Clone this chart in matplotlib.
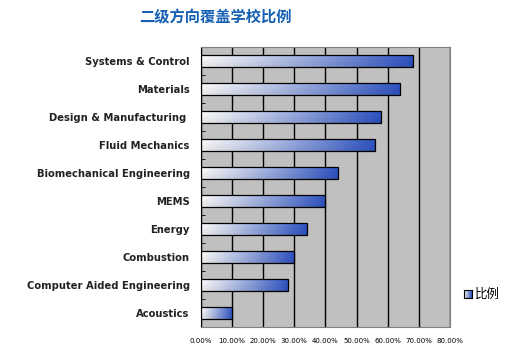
import numpy as np
import matplotlib
matplotlib.use('Agg')
import matplotlib.pyplot as plt
from matplotlib.ticker import FuncFormatter, MultipleLocator

plt.rcParams['font.family'] = ['DejaVu Sans', 'Noto Sans CJK SC']

categories = ['Systems & Control', 'Materials', 'Design & Manufacturing ', 'Fluid Mechanics',
              'Biomechanical Engineering', 'MEMS', 'Energy', 'Combustion',
              'Computer Aided Engineering', 'Acoustics']
values = [0.68, 0.64, 0.58, 0.56, 0.44, 0.40, 0.34, 0.30, 0.28, 0.10]
title = '二级方向覆盖学校比例'
legend_label = '比例'

# gradient image: white on the left to blue on the right, slightly darker at the bottom
t = np.linspace(0, 1, 256)
white = np.array([1.0, 1.0, 1.0])
blue = np.array([0.18, 0.33, 0.78])
row = white + (blue - white) * (t ** 1.1)[:, None]
shade = np.linspace(1.0, 0.9, 32)
grad_img = np.clip(row[None, :, :] * shade[:, None, None], 0, 1)

fig = plt.figure(figsize=(5.22, 3.54), dpi=100)
ax = fig.add_axes([0.3847, 0.0771, 0.862 - 0.3847, 0.868 - 0.0771])
ax.set_facecolor('#c0c0c0')

y = np.arange(len(categories))
bars = ax.barh(y, values, height=0.43, color='none', edgecolor='black', linewidth=0.9, zorder=4)

for b in bars:
    x0, y0 = b.get_x(), b.get_y()
    w, h = b.get_width(), b.get_height()
    im = ax.imshow(grad_img, extent=[x0, x0 + w, y0 + h, y0], aspect='auto', zorder=3,
                   interpolation='bilinear')
    im.set_clip_path(b)

ax.set_xlim(0, 0.8)
ax.set_ylim(len(categories) - 0.5, -0.5)
ax.xaxis.set_major_locator(MultipleLocator(0.1))
ax.xaxis.set_major_formatter(FuncFormatter(lambda v, p: '%.2f%%' % (v * 100)))
ax.grid(axis='x', color='black', linewidth=1.0, zorder=1)
ax.set_axisbelow(True)

ax.set_yticks(y)
ax.set_yticklabels(categories, fontsize=7.2, fontweight='bold', color='#222222')
ax.set_yticks(np.arange(len(categories) + 1) - 0.5, minor=True)
ax.tick_params(axis='y', which='major', length=0, pad=8)
ax.tick_params(axis='y', which='minor', length=3, direction='in', color='black')
ax.tick_params(axis='x', length=0, labelsize=5, pad=8)

for s in ['top', 'right']:
    ax.spines[s].set_color('#808080')
ax.spines['left'].set_color('black')
ax.spines['bottom'].set_color('#808080')

fig.text(0.412, 0.952, title, fontsize=11, fontweight='bold', color='#1660b4',
         ha='center', va='center', family=['Noto Sans CJK SC'])

# legend
lax = fig.add_axes([464 / 522, 1 - 298 / 354, 8 / 522, 8 / 354])
lax.imshow(grad_img, aspect='auto', extent=[0, 1, 0, 1])
lax.set_xticks([])
lax.set_yticks([])
for s in lax.spines.values():
    s.set_color('black')
    s.set_linewidth(0.8)
fig.text(475 / 522, 1 - 294 / 354, legend_label, fontsize=9, va='center', ha='left',
         family=['Noto Sans CJK SC'])

fig.savefig('out.png', dpi=100)
